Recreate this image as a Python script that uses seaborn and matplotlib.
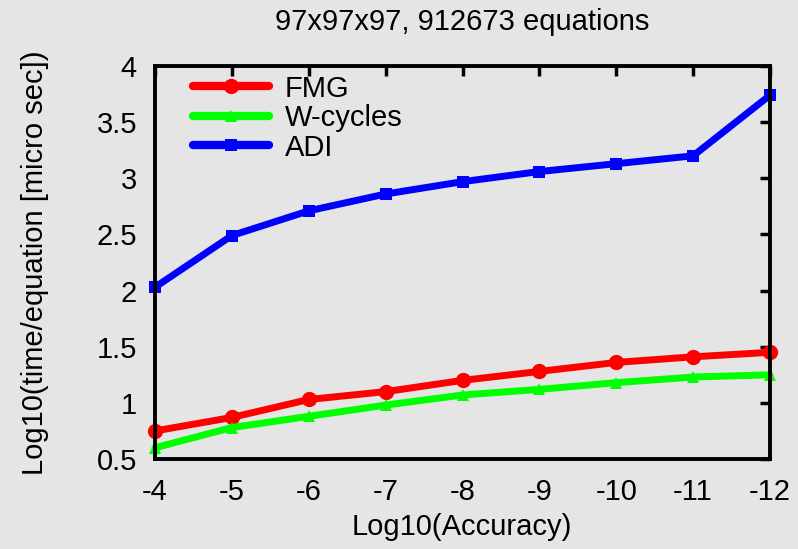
import matplotlib
matplotlib.use("Agg")
import matplotlib.pyplot as plt
from matplotlib.lines import Line2D
import seaborn as sns
import pandas as pd

# Convergence cost per equation for a 97^3 grid
accuracy = [-4, -5, -6, -7, -8, -9, -10, -11, -12]
fmg = [0.75, 0.87, 1.03, 1.10, 1.20, 1.28, 1.36, 1.41, 1.45]
wcycles = [0.60, 0.78, 0.88, 0.98, 1.07, 1.12, 1.18, 1.23, 1.25]
adi = [2.03, 2.49, 2.71, 2.86, 2.97, 3.06, 3.13, 3.20, 3.74]

series_names = ["FMG", "W-cycles", "ADI"]
series_values = [fmg, wcycles, adi]
colors = {"FMG": "#ff0000", "W-cycles": "#00ff00", "ADI": "#0000ff"}
markers = {"FMG": "o", "W-cycles": "^", "ADI": "s"}
marker_sizes = {"FMG": 11, "W-cycles": 8, "ADI": 9}

x_ticks = [-4, -5, -6, -7, -8, -9, -10, -11, -12]
y_ticks = [0.5, 1, 1.5, 2, 2.5, 3, 3.5, 4]
y_tick_labels = ["0.5", "1", "1.5", "2", "2.5", "3", "3.5", "4"]

rows = []
for name, vals in zip(series_names, series_values):
    for a, v in zip(accuracy, vals):
        rows.append({"accuracy": a, "value": v, "method": name})
df = pd.DataFrame(rows)

sns.set_theme(style="white")
plt.rcParams["font.family"] = ["Liberation Sans", "DejaVu Sans"]
plt.rcParams["text.color"] = "black"
bg = "#e5e5e5"
fs = 21

fig = plt.figure(figsize=(7.98, 5.49), dpi=100, facecolor=bg)
ax = fig.add_axes([155 / 798, 1 - 459 / 549, 615 / 798, 393 / 549])
ax.set_facecolor(bg)

for name in series_names:
    sub = df[df["method"] == name]
    sns.lineplot(data=sub, x="accuracy", y="value", ax=ax, color=colors[name],
                 marker=markers[name], markersize=marker_sizes[name],
                 markeredgewidth=0, linewidth=5, legend=False,
                 clip_on=False, zorder=3)

ax.set_xlim(-4, -12)
ax.set_ylim(0.5, 4)
ax.set_xticks(x_ticks)
ax.set_xticklabels([str(t) for t in x_ticks])
ax.set_yticks(y_ticks)
ax.set_yticklabels(y_tick_labels)

for side in ax.spines.values():
    side.set_visible(True)
    side.set_color("black")
    side.set_linewidth(2.8)
    side.set_zorder(4)

ax.tick_params(axis="both", which="major", direction="in", length=7, width=2.5,
               color="black", labelsize=fs, labelcolor="black",
               top=True, right=True)
ax.tick_params(axis="x", pad=14)
ax.tick_params(axis="y", pad=13)

ax.set_xlabel("")
ax.set_ylabel("")
fig.text(462 / 798, 1 - 527 / 549, "Log10(Accuracy)", ha="center", va="center",
         fontsize=fs, color="black")
fig.text(35 / 798, 1 - 263 / 549, "Log10(time/equation [micro sec])", ha="center",
         va="center", rotation=90, fontsize=fs, color="black")
fig.text(462 / 798, 1 - 22 / 549, "97x97x97, 912673 equations", ha="center",
         va="center", fontsize=fs, color="black")

handles = [Line2D([], [], color=colors[n], marker=markers[n], linewidth=6,
                  markersize=marker_sizes[n], markeredgewidth=0)
           for n in series_names]
leg = ax.legend(handles, series_names, loc="upper left",
                bbox_to_anchor=(26 / 615, 1 + 3 / 393), frameon=False,
                fontsize=fs, handlelength=2.6, handletextpad=0.55,
                labelspacing=0.05, borderaxespad=0)
for t in leg.get_texts():
    t.set_color("black")

fig.savefig("out.png", dpi=100, facecolor=bg)
